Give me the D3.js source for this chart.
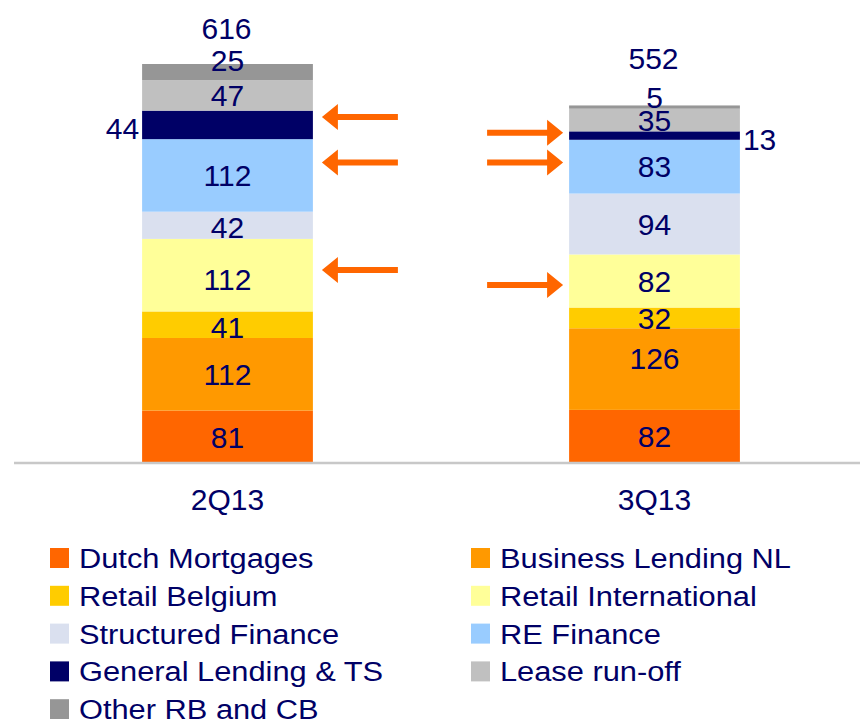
<!DOCTYPE html>
<html>
<head>
<meta charset="utf-8">
<script src="https://cdn.jsdelivr.net/npm/d3@7.9.0/dist/d3.min.js"></script>
<style>
  body { margin: 0; background: #fff; }
  svg { display: block; font-family: Arial, "Liberation Sans", sans-serif; }
  text { fill: #000066; }
</style>
</head>
<body>
<svg width="860" height="719"></svg>
<script>
const periods = ['2Q13', '3Q13'];
const series = ['Dutch Mortgages', 'Business Lending NL', 'Retail Belgium', 'Retail International',
  'Structured Finance', 'RE Finance', 'General Lending & TS', 'Lease run-off', 'Other RB and CB'];
const colours = ['#ff6600', '#ff9900', '#ffcc00', '#ffff99', '#dae0ef', '#99ccff', '#000066', '#c0c0c0', '#969696'];
const values2Q13 = [81, 112, 41, 112, 42, 112, 44, 47, 25];
const values3Q13 = [82, 126, 32, 82, 94, 83, 13, 35, 5];
const totals = [616, 552];

// arrows: period side, value level, direction
const arrows = [
  { side: 0, at: 534, dir: 'left' },
  { side: 0, at: 464, dir: 'left' },
  { side: 0, at: 298, dir: 'left' },
  { side: 1, at: 510, dir: 'right' },
  { side: 1, at: 464, dir: 'right' },
  { side: 1, at: 275, dir: 'right' }
];

const svg = d3.select('svg');
const baseY = 463;

const x = d3.scaleBand().domain(periods).range([14, 868]).paddingInner(0.6).paddingOuter(0.3);
const y = d3.scaleLinear().domain([0, 616]).range([baseY, 64]);

const table = periods.map((p, i) => {
  const vals = i === 0 ? values2Q13 : values3Q13;
  const row = { period: p };
  series.forEach((s, j) => row[s] = vals[j]);
  return row;
});
const stacked = d3.stack().keys(series)(table);

// special placement for some labels
const placement = {
  '2Q13|Other RB and CB': { dy: -12 },
  '2Q13|General Lending & TS': { side: 'left', dy: 3 },
  '2Q13|Retail International': { dy: 4 },
  '2Q13|Retail Belgium': { dy: 2 },
  '2Q13|Structured Finance': { dy: 1.5 },
  '3Q13|Other RB and CB': { dy: -10 },
  '3Q13|General Lending & TS': { side: 'right', dy: 4 },
  '3Q13|Business Lending NL': { dy: -11 }
};
const totalOffset = [36, 47];

const layers = svg.append('g').selectAll('g')
  .data(stacked)
  .join('g')
  .attr('fill', (d, i) => colours[i]);

layers.selectAll('rect')
  .data(d => d.map(v => ({ key: d.key, v })))
  .join('rect')
  .attr('x', d => x(d.v.data.period))
  .attr('width', x.bandwidth())
  .attr('y', d => y(d.v[1]))
  .attr('height', d => y(d.v[0]) - y(d.v[1]));

// axis line
svg.append('line')
  .attr('x1', 14).attr('x2', 860)
  .attr('y1', baseY).attr('y2', baseY)
  .attr('stroke', '#c8c8c8').attr('stroke-width', 2.5);

// segment labels
const labels = svg.append('g').attr('font-size', 30);
stacked.forEach(layer => {
  layer.forEach(v => {
    const p = v.data.period;
    const pl = placement[p + '|' + layer.key] || {};
    const cy = (y(v[0]) + y(v[1])) / 2 + (pl.dy || 0);
    let cx = x(p) + x.bandwidth() / 2;
    let anchor = 'middle';
    if (pl.side === 'left') { cx = x(p) - 3; anchor = 'end'; }
    if (pl.side === 'right') { cx = x(p) + x.bandwidth() + 3; anchor = 'start'; }
    labels.append('text')
      .attr('x', cx).attr('y', cy).attr('dy', '0.36em')
      .attr('text-anchor', anchor)
      .text(v.data[layer.key]);
  });
});

// totals and category names
periods.forEach((p, i) => {
  labels.append('text')
    .attr('x', x(p) + x.bandwidth() / 2 - 1)
    .attr('y', y(totals[i]) - totalOffset[i])
    .attr('dy', '0.36em')
    .attr('text-anchor', 'middle')
    .text(totals[i]);
  labels.append('text')
    .attr('x', x(p) + x.bandwidth() / 2)
    .attr('y', 499)
    .attr('dy', '0.36em')
    .attr('text-anchor', 'middle')
    .text(p);
});

// arrows
const arrowG = svg.append('g').attr('fill', '#ff6600');
arrows.forEach(a => {
  const ay = y(a.at);
  let tip, tail;
  if (a.dir === 'left') {
    tip = x(periods[0]) + x.bandwidth() + 9;
    tail = tip + 76;
  } else {
    tip = x(periods[1]) - 6;
    tail = tip - 76;
  }
  const s = a.dir === 'left' ? 1 : -1;
  const head = 16, hw = 13, lw = 3;
  arrowG.append('path').attr('d', [
    'M', tip, ay,
    'L', tip + s * head, ay - hw,
    'L', tip + s * head, ay - lw,
    'L', tail, ay - lw,
    'L', tail, ay + lw,
    'L', tip + s * head, ay + lw,
    'L', tip + s * head, ay + hw, 'Z'
  ].join(' '));
});

// legend
const legend = svg.append('g');
series.forEach((s, i) => {
  const col = i % 2, row = Math.floor(i / 2);
  const lx = col === 0 ? 50 : 471;
  const ly = 558 + row * 37.8;
  legend.append('rect')
    .attr('x', lx).attr('y', ly - 10)
    .attr('width', 19).attr('height', 20)
    .attr('fill', colours[i]);
  legend.append('text')
    .attr('transform', `translate(${lx + 29},${ly}) scale(1.1,1)`)
    .attr('dy', '0.36em')
    .attr('font-size', 28)
    .text(s);
});
</script>
</body>
</html>
